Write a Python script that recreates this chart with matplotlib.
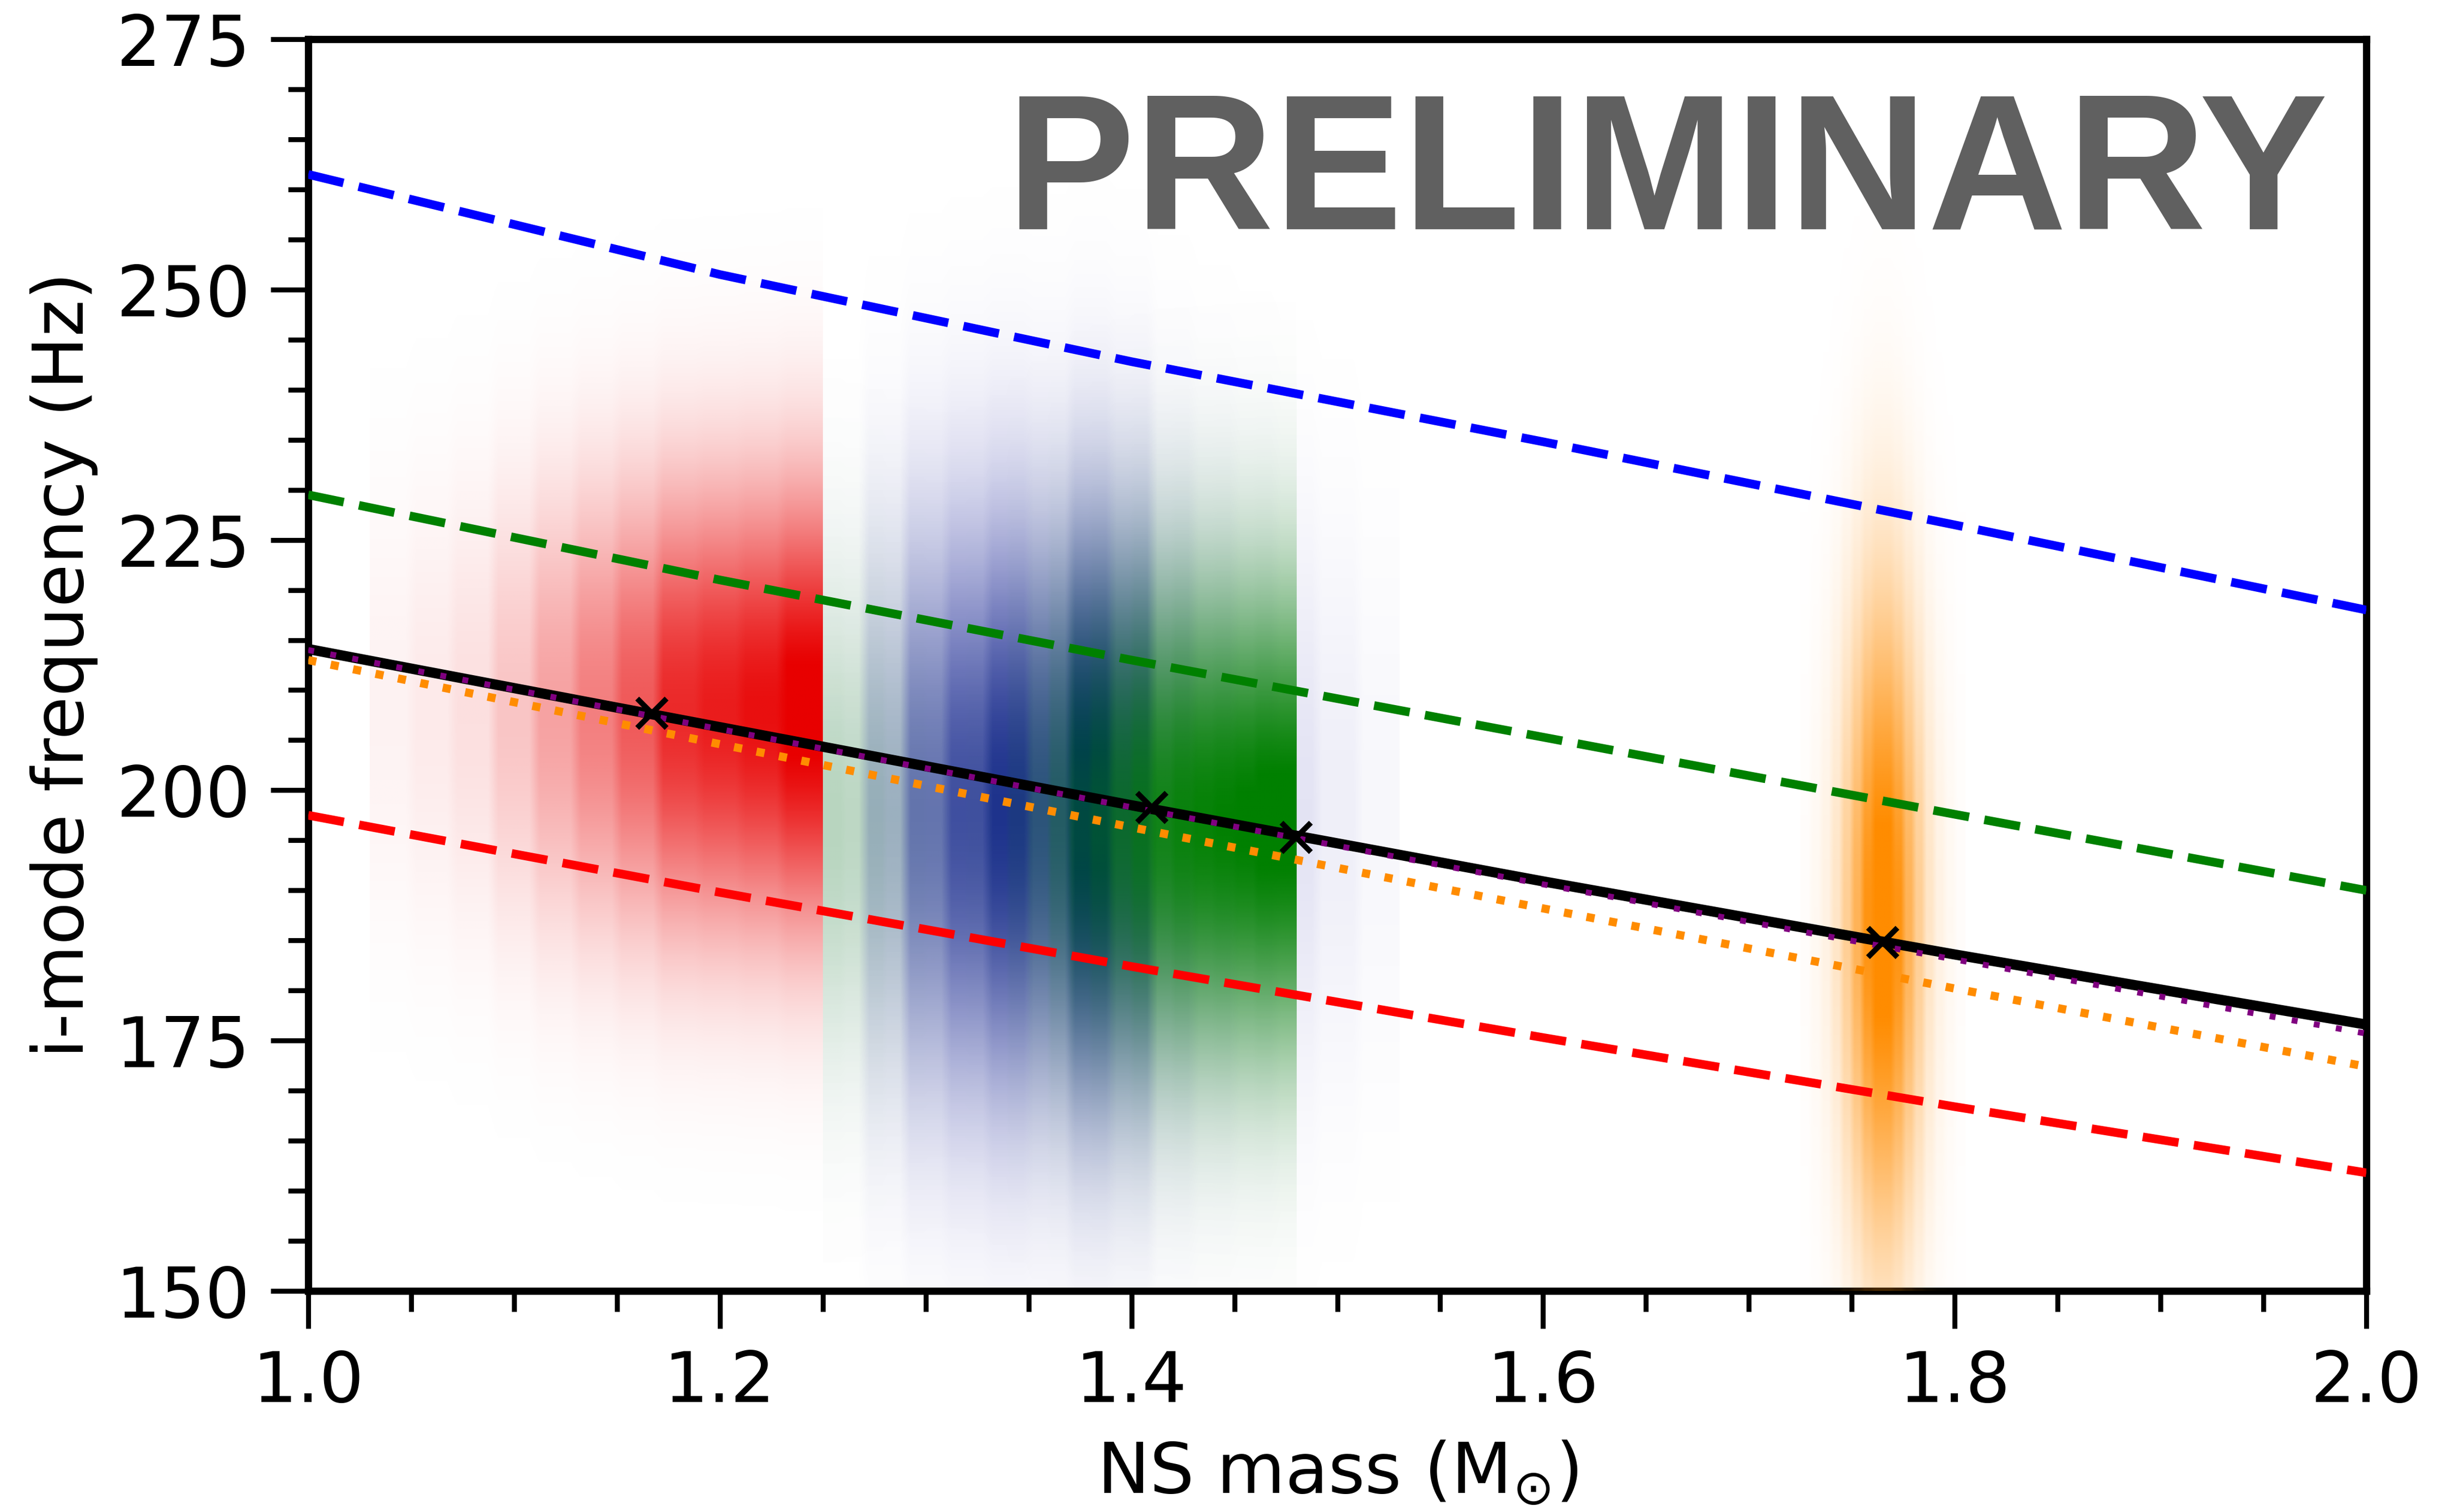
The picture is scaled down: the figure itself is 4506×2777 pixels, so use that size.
import numpy as np
import matplotlib
matplotlib.use("Agg")
import matplotlib.pyplot as plt
from matplotlib.colors import to_rgb
from matplotlib.ticker import MultipleLocator, FormatStrFormatter

# ---------------- data ----------------
mass_grid = [1.0, 1.2, 1.4, 1.6, 1.8, 2.0]
blue_dashed = [261.5, 251.5, 242.8, 234.8, 226.5, 218.0]
green_dashed = [229.5, 221.0, 213.0, 205.3, 197.6, 190.0]
black_solid = [214.1, 206.3, 198.5, 190.9, 183.6, 176.6]
purple_dotted = [214.0, 206.1, 198.3, 190.6, 183.1, 175.7]
orange_dotted = [213.0, 204.6, 196.3, 188.2, 180.2, 172.4]
red_dashed = [197.5, 189.8, 182.4, 175.3, 168.4, 161.8]

marker_mass = [1.167, 1.41, 1.48, 1.765]
marker_freq = [207.7, 198.3, 195.3, 184.8]

# posterior "clouds": mass range, column weights, frequency centre / width, peak opacity
red_mass_range = [1.03, 1.25]
red_weights = [0.05, 0.08, 0.12, 0.22, 0.35, 0.48, 0.62, 0.80, 0.85, 0.90, 1.00]
red_f_center, red_f_sigma, red_peak = 208.0, 15.0, 1.05

blue_mass_range = [1.25, 1.53]
blue_weights = [0.06, 0.25, 0.50, 0.65, 0.78, 0.68, 0.95, 0.75, 0.35, 0.22, 0.15, 0.10, 0.06, 0.03]
blue_f_center, blue_f_sigma, blue_peak = 198.0, 19.0, 1.1

green_mass_range = [1.25, 1.48]
green_weights = [0.22, 0.20, 0.18, 0.15, 0.13, 0.12, 0.12, 0.13, 0.16, 0.22, 0.30, 0.42,
                 0.55, 0.62, 0.70, 0.78, 0.85, 0.90, 0.93, 0.95, 0.97, 1.00, 1.00]
green_f_center, green_f_sigma, green_peak = 197.0, 15.5, 1.05

orange_mass_range = [1.725, 1.805]
orange_weights = [0.02, 0.05, 0.10, 0.20, 0.38, 0.60, 0.85, 1.00, 1.00, 0.85, 0.60, 0.38, 0.20, 0.10, 0.05, 0.02]
orange_f_center, orange_f_sigma, orange_peak = 187.0, 22.0, 1.1

xlim = (1.0, 2.0)
ylim = (150, 275)

# ---------------- figure ----------------
W, H, DPI = 4506, 2777, 300
fig = plt.figure(figsize=(W / DPI, H / DPI), dpi=DPI)
ax = fig.add_axes([566 / W, 1 - 2371 / H, (4345 - 566) / W, (2371 - 72) / H])


def cloud(mrange, weights, fc, fs, peak, color, zorder, rep=4):
    w = np.repeat(np.asarray(weights, dtype=float), rep)
    f = np.linspace(ylim[0], ylim[1], 600)
    prof = peak * np.exp(-0.5 * ((f - fc) / fs) ** 2)
    rgba = np.zeros((len(f), len(w), 4))
    rgba[..., :3] = to_rgb(color)
    rgba[..., 3] = np.clip(prof[:, None] * w[None, :], 0, 1)
    ax.imshow(rgba, extent=[mrange[0], mrange[1], ylim[0], ylim[1]], origin="lower",
              aspect="auto", interpolation="bilinear", zorder=zorder)


cloud(blue_mass_range, blue_weights, blue_f_center, blue_f_sigma, blue_peak, "#00009a", 1)
cloud(green_mass_range, green_weights, green_f_center, green_f_sigma, green_peak, "#008000", 2)
cloud(red_mass_range, red_weights, red_f_center, red_f_sigma, red_peak, "#e80000", 3)
cloud(orange_mass_range, orange_weights, orange_f_center, orange_f_sigma, orange_peak, "#ff8c00", 4, rep=2)

dash = (4.2, 1.8)
ax.plot(mass_grid, blue_dashed, color="#0000ff", lw=3.8, dashes=dash, zorder=5)
ax.plot(mass_grid, green_dashed, color="#008000", lw=3.8, dashes=dash, zorder=5)
ax.plot(mass_grid, red_dashed, color="#ff0000", lw=3.8, dashes=dash, zorder=5)
ax.plot(mass_grid, orange_dotted, color="#ff8c00", lw=3.6, dashes=(1, 1.8), zorder=5)
ax.plot(mass_grid, black_solid, color="black", lw=4.5, zorder=6)
ax.plot(mass_grid, purple_dotted, color="#800080", lw=2.6, dashes=(1, 2.8), zorder=7)
ax.plot(marker_mass, marker_freq, ls="none", marker="x", ms=13, mew=2.4, color="black", zorder=8)

ax.set_xlim(*xlim)
ax.set_ylim(*ylim)

ax.xaxis.set_major_locator(MultipleLocator(0.2))
ax.xaxis.set_minor_locator(MultipleLocator(0.05))
ax.yaxis.set_major_locator(MultipleLocator(25))
ax.yaxis.set_minor_locator(MultipleLocator(5))
ax.xaxis.set_major_formatter(FormatStrFormatter("%.1f"))
ax.tick_params(which="both", direction="out", top=False, right=False, labelsize=31, pad=9)
ax.tick_params(which="major", length=16.5, width=2.2)
ax.tick_params(which="minor", length=9, width=2.2)
for s in ax.spines.values():
    s.set_linewidth(3.2)

ax.set_xlabel(r"NS mass (M$_{\odot}$)", fontsize=31, labelpad=10)
ax.set_ylabel("i-mode frequency (Hz)", fontsize=31, labelpad=8)

ax.text(0.9815, 0.8486, "PRELIMINARY", transform=ax.transAxes, ha="right", va="baseline",
        fontsize=85, fontweight="bold", family="Liberation Sans", color="#606060", zorder=10)

fig.savefig("out.png", dpi=DPI)
